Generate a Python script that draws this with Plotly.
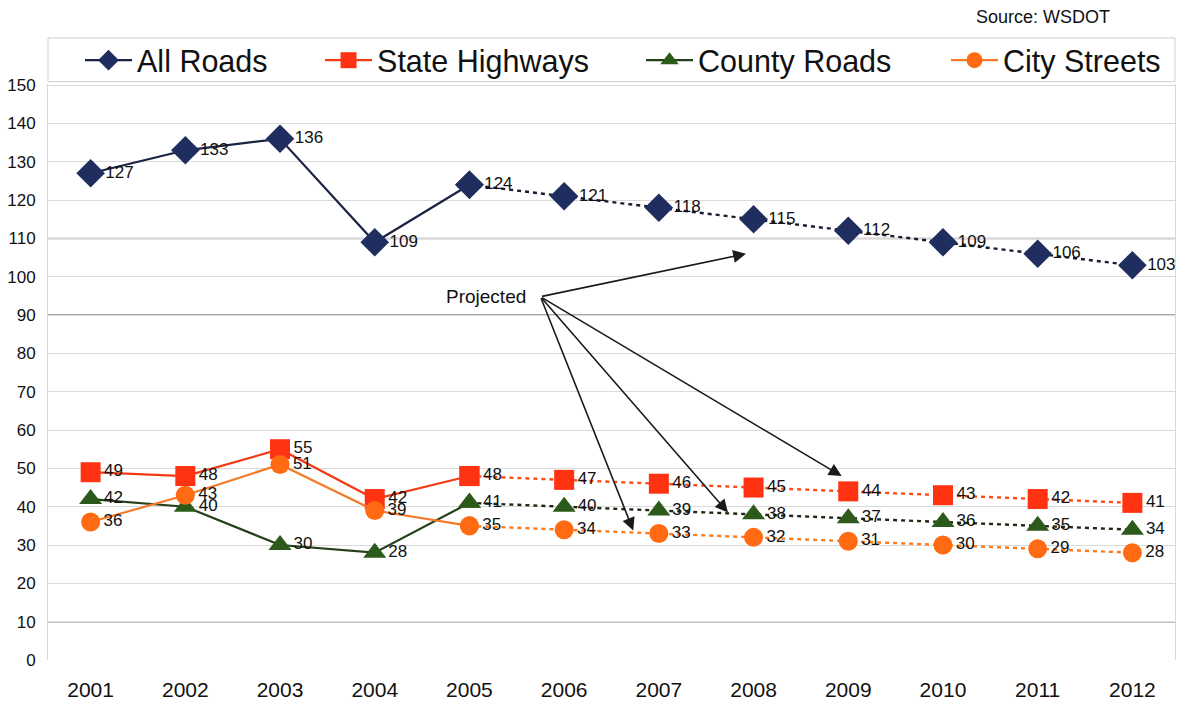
import plotly.graph_objects as go

# Annual figures (2001-2005 actual, 2005-2012 projected)
years = [2001, 2002, 2003, 2004, 2005, 2006, 2007, 2008, 2009, 2010, 2011, 2012]
all_roads = [127, 133, 136, 109, 124, 121, 118, 115, 112, 109, 106, 103]
state_highways = [49, 48, 55, 42, 48, 47, 46, 45, 44, 43, 42, 41]
county_roads = [42, 40, 30, 28, 41, 40, 39, 38, 37, 36, 35, 34]
city_streets = [36, 43, 51, 39, 35, 34, 33, 32, 31, 30, 29, 28]
series_names = ["All Roads", "State Highways", "County Roads", "City Streets"]
y_ticks = list(range(0, 151, 10))
last_actual = 4  # index of 2005, where projections begin

FONT = "Liberation Sans, Arial, sans-serif"

styles = [
    dict(marker="diamond", size=22, mcolor="#1F2E5E", lcolor="#1B2244", dcolor="#1B1B2E"),
    dict(marker="square", size=20, mcolor="#FF3311", lcolor="#F23A16", dcolor="#FF4A1A"),
    dict(marker="triangle-up", size=20, mcolor="#2C5A1A", lcolor="#25401A", dcolor="#1E2A16"),
    dict(marker="circle", size=19, mcolor="#FF6A13", lcolor="#F47A2A", dcolor="#FF7A1A"),
]
values = [all_roads, state_highways, county_roads, city_streets]
legend_ids = ["legend", "legend2", "legend3", "legend4"]
legend_x = [0.0284, 0.2414, 0.5262, 0.7968]

fig = go.Figure()
for name, vals, st, lg in zip(series_names, values, styles, legend_ids):
    marker = dict(symbol=st["marker"], size=st["size"], color=st["mcolor"],
                  line=dict(width=0))
    # actual years: solid line
    fig.add_trace(go.Scatter(
        x=years[:last_actual + 1], y=vals[:last_actual + 1],
        mode="lines+markers+text", name=name, legend=lg,
        line=dict(color=st["lcolor"], width=2.2),
        marker=marker,
        text=[str(v) for v in vals[:last_actual]] + [""],
        textposition="middle right",
        textfont=dict(family=FONT, size=17, color="#111111"),
        cliponaxis=False,
    ))
    # projected years: dashed line
    fig.add_trace(go.Scatter(
        x=years[last_actual:], y=vals[last_actual:],
        mode="lines+markers+text", name=name, showlegend=False,
        line=dict(color=st["dcolor"], width=2.4, dash="4px,4px"),
        marker=marker,
        text=[str(v) for v in vals[last_actual:]],
        textposition="middle right",
        textfont=dict(family=FONT, size=17, color="#111111"),
        cliponaxis=False,
    ))

# "Projected" callout with arrows toward the projected series
callout_tail = (2005.75, 94.8)
arrow_heads = [(2007.92, 106.0), (2006.73, 33.8), (2007.73, 38.5), (2008.93, 48.0)]
for hx, hy in arrow_heads:
    fig.add_annotation(x=hx, y=hy, ax=callout_tail[0], ay=callout_tail[1],
                       xref="x", yref="y", axref="x", ayref="y",
                       text="", showarrow=True, arrowhead=2, arrowsize=1.6,
                       arrowwidth=1.6, arrowcolor="#1A1A1A")
fig.add_annotation(x=callout_tail[0], y=callout_tail[1], xref="x", yref="y",
                   text="Projected", showarrow=False, xanchor="right",
                   xshift=-12, font=dict(family=FONT, size=19, color="#111111"))

fig.add_annotation(x=0.944, y=1.116, xref="paper", yref="paper", yanchor="middle",
                   text="Source: WSDOT", showarrow=False, xanchor="right",
                   font=dict(family=FONT, size=18, color="#111111"))

# darker reference lines
for yv in (10, 90, 110):
    fig.add_shape(type="line", xref="paper", yref="y", x0=0, x1=1, y0=yv, y1=yv,
                  line=dict(color="#8A8A8A", width=1.5), layer="below")

# legend frame across the top
fig.add_shape(type="rect", xref="paper", yref="paper", x0=0.0, x1=1.0,
              y0=1.004, y1=1.08, line=dict(color="#CFCFCF", width=1),
              fillcolor="white", layer="below")

layout_legends = {}
for lg, lx in zip(legend_ids, legend_x):
    layout_legends[lg] = dict(x=lx, y=1.041, xanchor="left", yanchor="middle",
                              orientation="h", bgcolor="rgba(0,0,0,0)",
                              font=dict(family=FONT, size=30.5, color="#111111"),
                              itemsizing="trace", itemwidth=47)

fig.update_layout(
    width=1183, height=702,
    margin=dict(l=48, r=8, t=84, b=42),
    paper_bgcolor="white", plot_bgcolor="white",
    font=dict(family=FONT, color="#111111"),
    xaxis=dict(range=[2000.55, 2012.45], tickmode="array", tickvals=years,
               ticktext=[str(y) for y in years], showgrid=False, zeroline=False,
               tickfont=dict(size=21, family=FONT, color="#111111"),
               ticks="", showline=False, ticklabelstandoff=15, automargin=False),
    yaxis=dict(range=[0, 150.3], tickmode="array", tickvals=y_ticks,
               showgrid=True, gridcolor="#DADADA", gridwidth=1, zeroline=False,
               tickfont=dict(size=17, family=FONT, color="#111111"),
               ticks="", showline=True, mirror=True, linecolor="#D8D8D8",
               ticklabelstandoff=8, automargin=False),
    **layout_legends,
)

fig.write_html("out.html")
